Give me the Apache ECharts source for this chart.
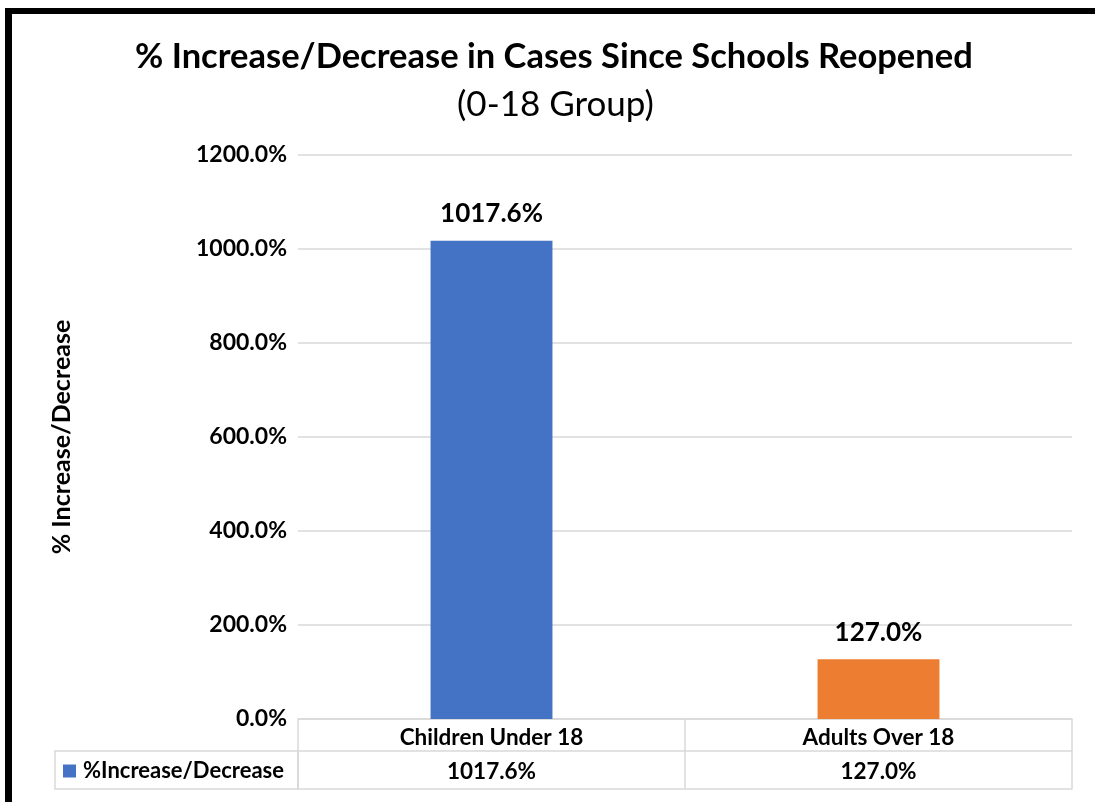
<!DOCTYPE html>
<html>
<head>
<meta charset="utf-8">
<title>% Increase/Decrease in Cases Since Schools Reopened</title>
<script src="https://cdn.jsdelivr.net/npm/echarts@6/dist/echarts.min.js"></script>
<style>
  html, body { margin: 0; padding: 0; background: #fff; }
  #chart { width: 1095px; height: 802px; }
</style>
</head>
<body>
<div id="chart"></div>
<script>
// 数据
const categories = ['Children Under 18', 'Adults Over 18']
const seriesName = '%Increase/Decrease'
const values = [1017.6, 127.0]
const barColors = ['#4472C4', '#ED7D31']
const yMin = 0
const yMax = 1200
const yStep = 200

const FONT = 'Lato, "Liberation Sans", Arial, sans-serif'
const GRID_COLOR = '#d9d9d9'
const pct = v => Number(v).toFixed(1) + '%'

const chart = echarts.init(document.getElementById('chart'))

// 表格下方的横线用额外的类目轴画
const tableAxis = (offset, showLabel, formatter) => ({
    type: 'category',
    data: categories,
    position: 'bottom',
    offset,
    axisLine: { show: true, lineStyle: { color: GRID_COLOR, width: 1.5 } },
    axisTick: { show: false },
    axisLabel: {
        show: showLabel,
        interval: 0,
        margin: 9,
        color: '#000',
        fontFamily: FONT,
        fontWeight: 'bold',
        fontSize: 22.5,
        formatter
    }
})

const option = {
    animation: false,
    title: [
        {
            text: '% Increase/Decrease in Cases Since Schools Reopened',
            left: 130,
            top: 34,
            textStyle: { fontFamily: FONT, fontWeight: 'bold', fontSize: 34.5, color: '#000' }
        },
        {
            text: '(0-18 Group)',
            left: 452,
            top: 82,
            textStyle: { fontFamily: FONT, fontWeight: 'normal', fontSize: 35, color: '#000' }
        }
    ],
    legend: {
        data: [seriesName],
        left: 63,
        top: 760,
        padding: 0,
        icon: 'rect',
        itemWidth: 13,
        itemHeight: 13,
        textStyle: { fontFamily: FONT, fontWeight: 'bold', fontSize: 22, color: '#000', padding: [0, 0, 0, 2] }
    },
    grid: { left: 298, right: 23, top: 155, bottom: 83 },
    xAxis: [
        {
            type: 'category',
            data: categories,
            position: 'bottom',
            axisLine: { show: true, lineStyle: { color: GRID_COLOR, width: 1.5 } },
            axisTick: { show: true, interval: 0, length: 70, lineStyle: { color: GRID_COLOR, width: 1.5 } },
            axisLabel: {
                interval: 0,
                margin: 7,
                color: '#000',
                fontFamily: FONT,
                fontWeight: 'bold',
                fontSize: 22.5
            }
        },
        tableAxis(32, true, (v, i) => pct(values[i])),
        tableAxis(70, false)
    ],
    yAxis: {
        type: 'value',
        min: yMin,
        max: yMax,
        interval: yStep,
        name: '% Increase/Decrease',
        nameLocation: 'middle',
        nameRotate: 90,
        nameGap: 224,
        nameTextStyle: { fontFamily: FONT, fontWeight: 'bold', fontSize: 25, color: '#000' },
        axisLine: { show: false },
        axisTick: { show: false },
        axisLabel: {
            margin: 11,
            color: '#000',
            fontFamily: FONT,
            fontWeight: 'bold',
            fontSize: 23,
            formatter: v => pct(v)
        },
        splitLine: { show: true, lineStyle: { color: GRID_COLOR, width: 1.5 } }
    },
    series: [
        {
            name: seriesName,
            type: 'bar',
            xAxisIndex: 0,
            barWidth: '31.5%',
            itemStyle: { color: barColors[0] },
            data: values.map((v, i) => ({ value: v, itemStyle: { color: barColors[i] } })),
            label: {
                show: true,
                position: 'top',
                distance: 14,
                color: '#000',
                fontFamily: FONT,
                fontWeight: 'bold',
                fontSize: 26,
                formatter: p => pct(p.value)
            }
        }
    ],
    graphic: [
        // 外框（上、左）
        { type: 'rect', shape: { x: 5, y: 8, width: 1090, height: 6 }, style: { fill: '#000' }, silent: true },
        { type: 'rect', shape: { x: 5, y: 8, width: 7, height: 794 }, style: { fill: '#000' }, silent: true },
        // 图例单元格
        {
            type: 'rect',
            shape: { x: 55, y: 751, width: 243, height: 38 },
            style: { fill: 'none', stroke: GRID_COLOR, lineWidth: 1.5 },
            silent: true
        }
    ]
}

chart.setOption(option)
window.addEventListener('resize', () => chart.resize())
</script>
</body>
</html>
